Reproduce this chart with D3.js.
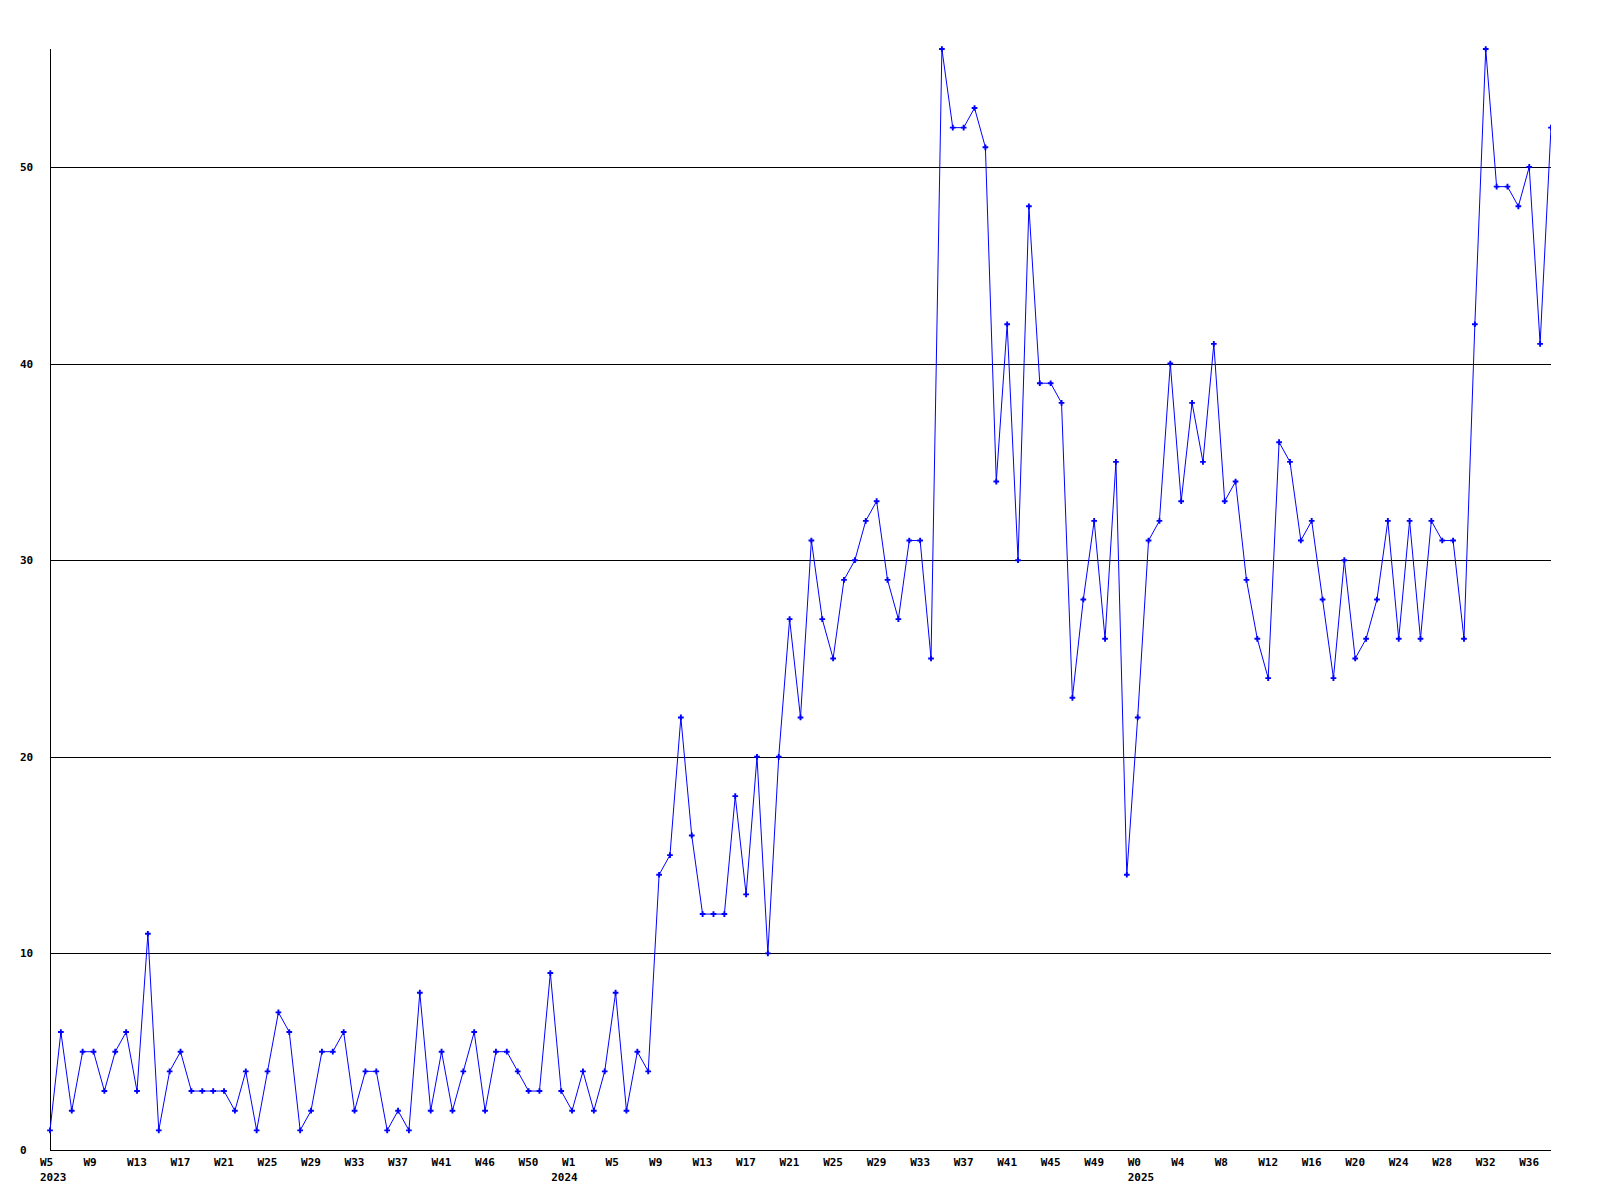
<!DOCTYPE html>
<html>
<head>
<meta charset="utf-8">
<script src="https://cdn.jsdelivr.net/npm/d3@7"></script>
<style>
  html, body { margin: 0; padding: 0; background: #fff; }
  svg { display: block; }
  text { font-family: "DejaVu Sans Mono", "Liberation Mono", monospace; font-weight: bold; font-size: 11px; fill: #000; }
</style>
</head>
<body>
<svg id="chart" width="1600" height="1200"></svg>
<script>
// Weekly counts, 2023 W5 .. 2025 W38 (one value per week)
const values = [
  1,6,2,5,5,3,5,6,3,11,1,4,5,3,3,3,3,2,4,1,4,7,6,1,2,5,5,6,2,4,4,1,2,
  1,8,2,5,2,4,6,2,5,5,4,3,3,9,3,2,4,2,4,8,2,5,4,
  14,15,22,16,12,12,12,18,13,20,10,20,27,22,
  31,27,25,29,30,32,33,29,27,31,31,25,
  56,52,52,53,51,34,42,30,48,39,39,38,23,
  28,32,26,35,14,22,31,32,40,33,38,35,41,33,34,29,
  26,24,36,35,31,32,28,24,30,25,26,28,32,26,32,26,32,
  31,31,26,42,56,49,49,48,50,41,52
];

// X tick labels (every 4th week) and their point index
const weekLabels = ["W5","W9","W13","W17","W21","W25","W29","W33","W37","W41","W46","W50",
  "W1","W5","W9","W13","W17","W21","W25","W29","W33","W37","W41","W45","W49",
  "W0","W4","W8","W12","W16","W20","W24","W28","W32","W36"];
const weekLabelIdx = weekLabels.map((d, i) => i * 4);

const yearLabels = ["2023", "2024", "2025"];
const yearLabelIdx = [0, 47, 100];

const yTicks = [0, 10, 20, 30, 40, 50];
const yMax = 56;

(function () {
  const svg = d3.select("#chart");
  const mLeft = 50, mRight = 1551, mTop = 49, mBottom = 1150;

  const x = d3.scaleLinear().domain([0, values.length - 1]).range([mLeft, mRight]);
  const y = d3.scaleLinear().domain([0, yMax]).range([mBottom, mTop]);

  svg.append("defs").append("clipPath").attr("id", "plotclip")
    .append("rect").attr("x", 0).attr("y", 0).attr("width", mRight).attr("height", 1200);

  // Grid lines
  svg.append("g").selectAll("line").data(yTicks.filter(d => d > 0)).join("line")
    .attr("x1", mLeft).attr("x2", mRight)
    .attr("y1", d => Math.round(y(d)) + 0.5).attr("y2", d => Math.round(y(d)) + 0.5)
    .attr("stroke", "#000").attr("stroke-width", 1).attr("shape-rendering", "crispEdges");

  // Axes lines
  svg.append("line").attr("x1", mLeft + 0.5).attr("x2", mLeft + 0.5).attr("y1", mTop).attr("y2", mBottom)
    .attr("stroke", "#000").attr("shape-rendering", "crispEdges");
  svg.append("line").attr("x1", mLeft).attr("x2", mRight).attr("y1", mBottom + 0.5).attr("y2", mBottom + 0.5)
    .attr("stroke", "#000").attr("shape-rendering", "crispEdges");

  // Y labels
  svg.append("g").selectAll("text").data(yTicks).join("text")
    .attr("x", 20).attr("y", d => y(d)).attr("dy", "0.36em")
    .text(d => d);

  // X week labels
  svg.append("g").selectAll("text").data(weekLabels).join("text")
    .attr("x", (d, i) => x(weekLabelIdx[i]) - 10)
    .attr("y", 1166)
    .text(d => d);

  // Year labels
  svg.append("g").selectAll("text").data(yearLabels).join("text")
    .attr("x", (d, i) => x(yearLabelIdx[i]) - 10)
    .attr("y", 1181)
    .text(d => d);

  const plot = svg.append("g").attr("clip-path", "url(#plotclip)");

  // Data line
  const line = d3.line().x((d, i) => x(i)).y(d => y(d));
  plot.append("path").datum(values)
    .attr("d", line)
    .attr("fill", "none")
    .attr("stroke", "#0000ff")
    .attr("stroke-width", 1);

  // Markers
  const sym = d3.symbol().type(d3.symbolCross).size(18);
  plot.append("g").selectAll("path").data(values).join("path")
    .attr("transform", (d, i) => `translate(${x(i)},${y(d)})`)
    .attr("d", sym)
    .attr("fill", "#0000ff");
})();
</script>
</body>
</html>
